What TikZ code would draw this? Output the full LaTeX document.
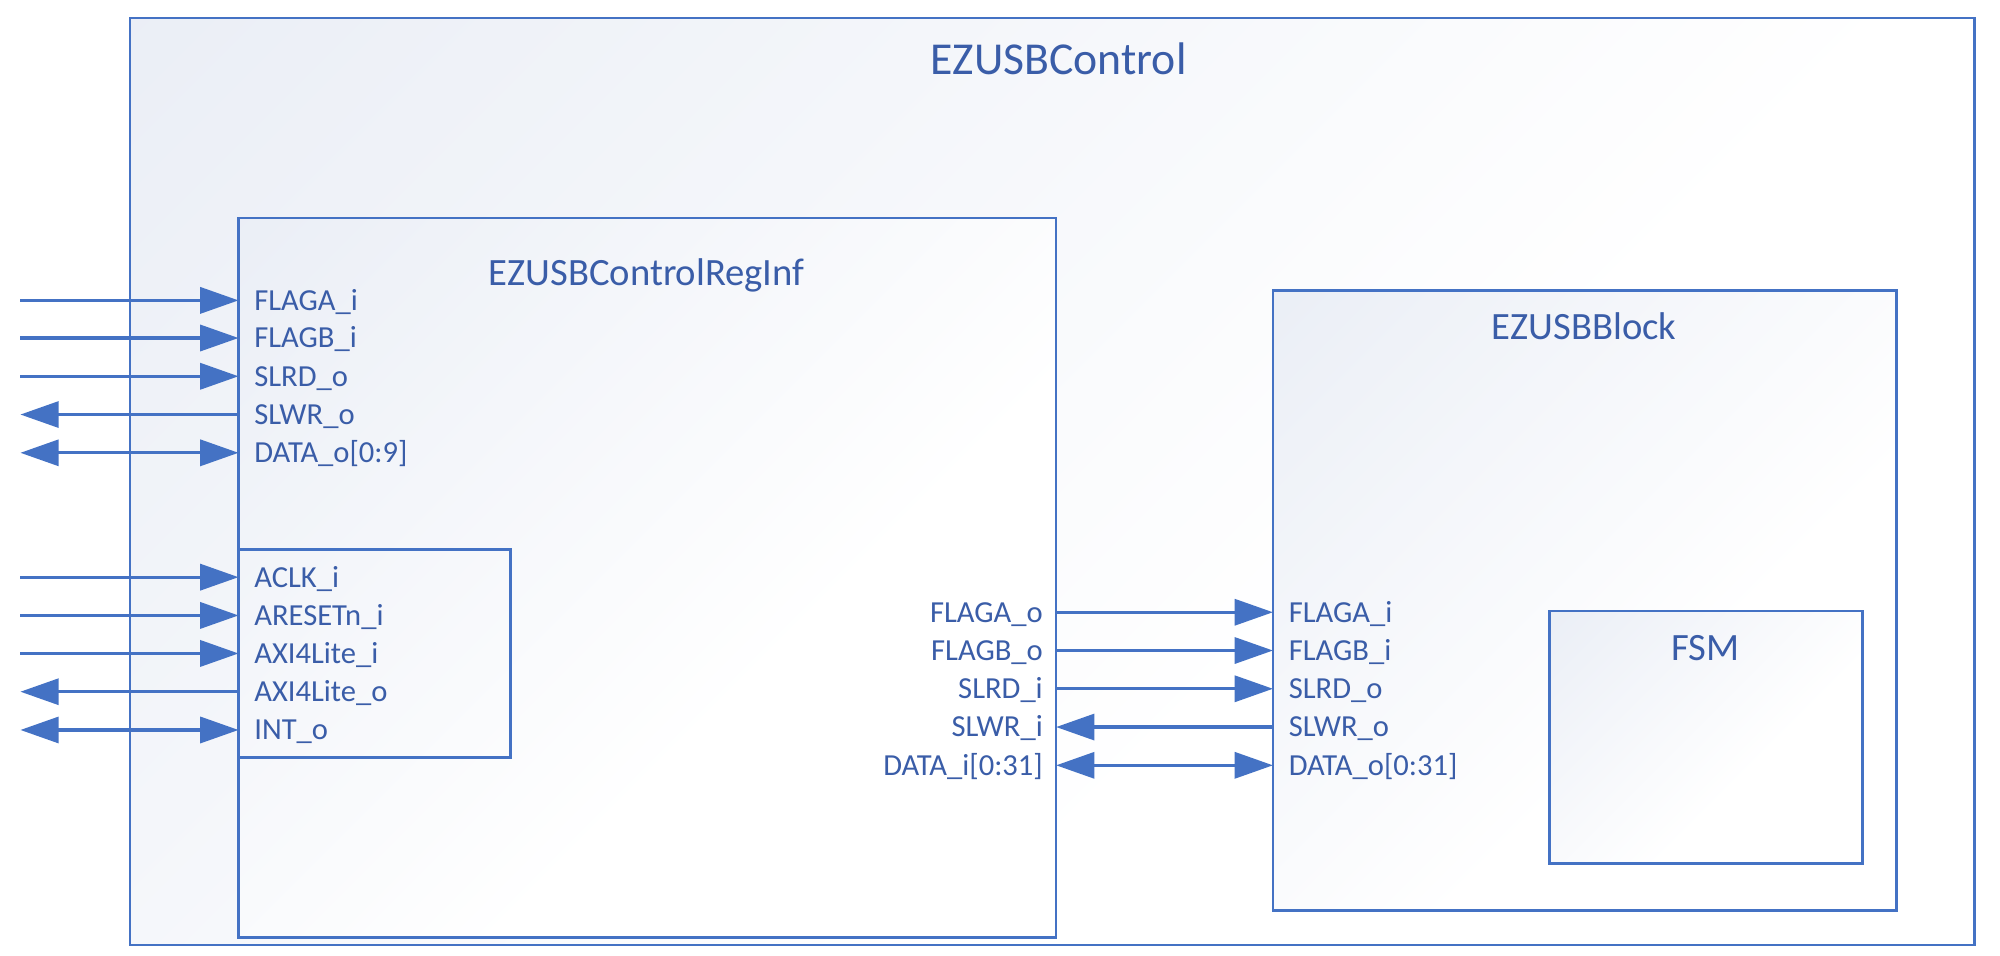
\documentclass[tikz,border=0pt]{standalone}
\usepackage{fontspec}
\setmainfont{Carlito}
\usetikzlibrary{arrows.meta,fit}
\definecolor{lineblue}{HTML}{4472C4}
\definecolor{textblue}{HTML}{3A5DA8}
\definecolor{shadeblue}{HTML}{E4E9F3}
\pgfdeclareverticalshading{diagfade}{100bp}{color(0bp)=(white); color(40bp)=(white); color(100bp)=(shadeblue)}
\tikzset{
  blk/.style={draw=lineblue, line width=0.75pt, inner sep=0pt, fit={#1}},
  shadedblk/.style={shading=diagfade, shading angle=45},
  bigttl/.style={text=textblue, font=\fontsize{13}{15}\selectfont, text height=8.4pt, text depth=0pt, inner sep=0pt},
  ttl/.style={text=textblue, font=\fontsize{11}{13}\selectfont, text height=7.1pt, text depth=0pt, inner sep=0pt},
  portl/.style={text=textblue, font=\fontsize{8.7}{10}\selectfont, anchor=west, inner xsep=4.3pt, inner ysep=0pt, text height=5.6pt, text depth=0pt},
  portr/.style={portl, anchor=east, inner xsep=3.6pt},
  sig/.style={draw=lineblue, line width=0.95pt},
  sigin/.style={sig, -{Triangle[length=10.9pt,width=7.4pt]}},
  sigbi/.style={sig, {Triangle[length=10.9pt,width=7.4pt]}-{Triangle[length=10.9pt,width=7.4pt]}},
}
\begin{document}
\begin{tikzpicture}[x=0.012755cm, y=-0.012755cm]
\useasboundingbox (0,0) rectangle (1568,749.5);
% boxes
\node[blk={(102,14) (1548,741)}, shadedblk] (outer) {};
\node[bigttl] (outerT) at (830,47) {EZUSBControl};
\node[blk={(187,171) (828,735)}, shadedblk] (reginf) {};
\node[ttl] (reginfT) at (507,214) {EZUSBControlRegInf};
\node[blk={(187,431) (400,594)}] (axi) {};
\node[blk={(998,228) (1487,714)}, shadedblk] (block) {};
\node[ttl] (blockT) at (1242,256) {EZUSBBlock};
\node[blk={(1215,479) (1460,677)}, shadedblk] (fsm) {};
\node[ttl] (fsmT) at (1337,508) {FSM};
% left ports of EZUSBControlRegInf
\node[portl] (pFA) at (187,235.5) {FLAGA\_i};
\node[portl] (pFB) at (187,265) {FLAGB\_i};
\node[portl] (pRD) at (187,295) {SLRD\_o};
\node[portl] (pWR) at (187,325) {SLWR\_o};
\node[portl] (pDA) at (187,355) {DATA\_o[0:9]};
\node[portl] (pCK) at (187,452.5) {ACLK\_i};
\node[portl] (pRS) at (187,482.5) {ARESETn\_i};
\node[portl] (pAI) at (187,512.3) {AXI4Lite\_i};
\node[portl] (pAO) at (187,542.3) {AXI4Lite\_o};
\node[portl] (pIN) at (187,572.3) {INT\_o};
% external ends
\coordinate (eFA) at (16,235.5);
\coordinate (eFB) at (16,265);
\coordinate (eRD) at (16,295);
\coordinate (eWR) at (16,325);
\coordinate (eDA) at (16,355);
\coordinate (eCK) at (16,452.5);
\coordinate (eRS) at (16,482.5);
\coordinate (eAI) at (16,512.3);
\coordinate (eAO) at (16,542.3);
\coordinate (eIN) at (16,572.3);
\draw[sigin] (eFA) -- (pFA.west);
\draw[sigin] (eFB) -- (pFB.west);
\draw[sigin] (eRD) -- (pRD.west);
\draw[sigin] (pWR.west) -- (eWR);
\draw[sigbi] (eDA) -- (pDA.west);
\draw[sigin] (eCK) -- (pCK.west);
\draw[sigin] (eRS) -- (pRS.west);
\draw[sigin] (eAI) -- (pAI.west);
\draw[sigin] (pAO.west) -- (eAO);
\draw[sigbi] (eIN) -- (pIN.west);
% right ports of EZUSBControlRegInf
\node[portr] (qFA) at (828,480) {FLAGA\_o};
\node[portr] (qFB) at (828,510) {FLAGB\_o};
\node[portr] (qRD) at (828,540) {SLRD\_i};
\node[portr] (qWR) at (828,570) {SLWR\_i};
\node[portr] (qDA) at (828,600) {DATA\_i[0:31]};
% ports of EZUSBBlock
\node[portl] (bFA) at (998,480) {FLAGA\_i};
\node[portl] (bFB) at (998,510) {FLAGB\_i};
\node[portl] (bRD) at (998,540) {SLRD\_o};
\node[portl] (bWR) at (998,570) {SLWR\_o};
\node[portl] (bDA) at (998,600) {DATA\_o[0:31]};
\draw[sigin] (qFA.east) -- (bFA.west);
\draw[sigin] (qFB.east) -- (bFB.west);
\draw[sigin] (qRD.east) -- (bRD.west);
\draw[sigin] (bWR.west) -- (qWR.east);
\draw[sigbi] (qDA.east) -- (bDA.west);
\end{tikzpicture}
\end{document}
